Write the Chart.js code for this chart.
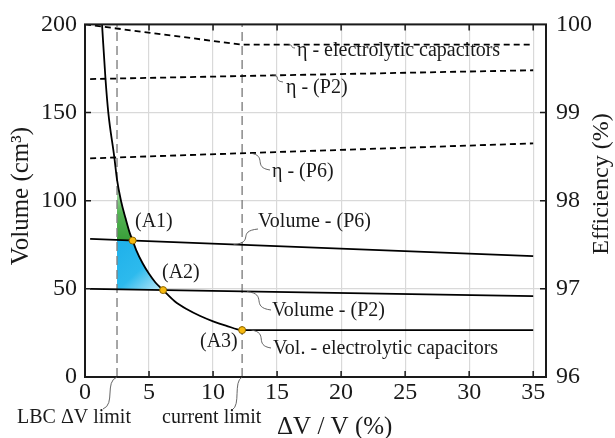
<!DOCTYPE html>
<html>
<head>
<meta charset="utf-8">
<script src="https://cdn.jsdelivr.net/npm/chart.js@4.4.0/dist/chart.umd.min.js"></script>
<style>
  html, body { margin: 0; padding: 0; background: #fff; }
  #wrap { width: 615px; height: 438px; position: relative; }
</style>
</head>
<body>
<div id="wrap"><canvas id="grafico"></canvas></div>
<script>
// curva de volume (cm3) em funcao de dV/V (%)
const curvaX = [1.33, 1.6, 1.82, 2.29, 2.5, 2.81, 3.18, 3.5, 3.72, 4, 4.5, 5, 5.5, 6.1, 7, 8, 9, 10, 11, 12.27, 35];
const curvaY = [200, 169, 150, 124.6, 112, 100, 89.7, 81.6, 77.4, 72, 64.5, 58.5, 53.6, 49.3, 43, 38.3, 34.6, 31.6, 29.2, 26.6, 26.6];

// retas de volume
const volP6X = [0.4, 35];
const volP6Y = [78.3, 68.6];
const volP2X = [0.4, 35];
const volP2Y = [50, 45.9];

// eficiencia (%)
const etaElX = [0, 12.27, 35];
const etaElY = [100, 99.77, 99.77];
const etaP2X = [0.4, 35];
const etaP2Y = [99.38, 99.48];
const etaP6X = [0.4, 35];
const etaP6Y = [98.48, 98.65];

// pontos (A1) (A2) (A3)
const pontosX = [3.72, 6.1, 12.27];
const pontosY = [77.4, 49.3, 26.6];

// limites
const limiteLBC = 2.5;
const limiteCorrente = 12.27;
const topoAzulInicio = 78.0;

const ticksX = [0, 5, 10, 15, 20, 25, 30, 35];
const ticksY = [0, 50, 100, 150, 200];
const ticksEta = [96, 97, 98, 99, 100];

const xy = (xs, ys) => xs.map((x, i) => ({x: x, y: ys[i]}));

// areas coloridas
const verdeTopo = xy(curvaX, curvaY).filter(p => p.x >= limiteLBC && p.x <= pontosX[0]);
const azulTopo = [{x: limiteLBC, y: topoAzulInicio}].concat(
  xy(curvaX, curvaY).filter(p => p.x >= pontosX[0] && p.x <= pontosX[1]));

const fonte = '"Liberation Serif", "Times New Roman", serif';

function gradVerde(c) {
  const ch = c.chart;
  if (!ch.chartArea) return '#3fa53f';
  const sy = ch.scales.y;
  const g = ch.ctx.createLinearGradient(0, sy.getPixelForValue(topoAzulInicio), 0, sy.getPixelForValue(112));
  g.addColorStop(0, '#3a9f3a');
  g.addColorStop(0.45, '#55b455');
  g.addColorStop(0.8, '#a9dca9');
  g.addColorStop(1, '#eaf6ea');
  return g;
}
function gradAzul(c) {
  const ch = c.chart;
  if (!ch.chartArea) return '#26b0e8';
  const sx = ch.scales.x, sy = ch.scales.y;
  const g = ch.ctx.createLinearGradient(sx.getPixelForValue(limiteLBC), sy.getPixelForValue(topoAzulInicio),
    sx.getPixelForValue(pontosX[1]), sy.getPixelForValue(pontosY[1]));
  g.addColorStop(0, '#1eb0ea');
  g.addColorStop(0.55, '#2dbaed');
  g.addColorStop(1, '#c2eaf9');
  return g;
}

const linha = { pointRadius: 0, borderColor: '#000', borderWidth: 1.8, fill: false, tension: 0 };

const datasets = [
  // 0 volume P6
  Object.assign({}, linha, { data: xy(volP6X, volP6Y), yAxisID: 'y', order: 2 }),
  // 1 volume P2
  Object.assign({}, linha, { data: xy(volP2X, volP2Y), yAxisID: 'y', order: 2 }),
  // 2 area verde
  { data: verdeTopo, yAxisID: 'y', pointRadius: 0, borderWidth: 0, tension: 0,
    fill: { target: 0 }, backgroundColor: gradVerde, order: 5 },
  // 3 area azul
  { data: azulTopo, yAxisID: 'y', pointRadius: 0, borderWidth: 0, tension: 0,
    fill: { target: 1 }, backgroundColor: gradAzul, order: 5 },
  // 4 limites verticais
  { data: [{x: limiteLBC, y: 0}, {x: limiteLBC, y: 200}], yAxisID: 'y', pointRadius: 0,
    borderColor: '#808080', borderWidth: 1.4, borderDash: [9, 5], fill: false, order: 4 },
  { data: [{x: limiteCorrente, y: 0}, {x: limiteCorrente, y: 200}], yAxisID: 'y', pointRadius: 0,
    borderColor: '#808080', borderWidth: 1.4, borderDash: [9, 5], fill: false, order: 4 },
  // curva de volume
  Object.assign({}, linha, { data: xy(curvaX, curvaY), yAxisID: 'y', cubicInterpolationMode: 'monotone', order: 2 }),
  // eficiencias
  Object.assign({}, linha, { data: xy(etaElX, etaElY), yAxisID: 'y2', borderDash: [6, 4], order: 3 }),
  Object.assign({}, linha, { data: xy(etaP2X, etaP2Y), yAxisID: 'y2', borderDash: [6, 4], order: 3 }),
  Object.assign({}, linha, { data: xy(etaP6X, etaP6Y), yAxisID: 'y2', borderDash: [6, 4], order: 3 }),
  // pontos
  { data: xy(pontosX, pontosY), yAxisID: 'y', showLine: false, pointRadius: 3.5,
    pointBackgroundColor: '#f7b90f', pointBorderColor: '#8a6400', pointBorderWidth: 1, order: 1 }
];

// textos com linhas-guia
const notas = [
  { t: 'η - electrolytic capacitors', x: 297, y: 51, g: { eixo: 'y2', vx: 15.9, vy: 99.77, fx: 295, fy: 48 } },
  { t: 'η - (P2)', x: 286, y: 88, g: { eixo: 'y2', vx: 14.6, vy: 99.43, fx: 283, fy: 82 } },
  { t: 'η - (P6)', x: 272, y: 172, g: { eixo: 'y2', vx: 12.9, vy: 98.54, fx: 270, fy: 170 } },
  { t: 'Volume - (P6)', x: 258, y: 222, g: { eixo: 'y', vx: 11.6, vy: 75.1, fx: 258, fy: 229 } },
  { t: 'Volume - (P2)', x: 272, y: 311, g: { eixo: 'y', vx: 12.65, vy: 48.5, fx: 271, fy: 310 } },
  { t: 'Vol. - electrolytic capacitors', x: 273, y: 349, g: { eixo: 'y', vx: 13.0, vy: 26.6, fx: 271, fy: 348 } },
  { t: '(A1)', x: 135, y: 222 },
  { t: '(A2)', x: 162, y: 273 },
  { t: '(A3)', x: 200, y: 342 },
  { t: 'LBC ΔV limit', x: 17, y: 418, g: { eixo: 'y', vx: limiteLBC, vy: 0, fx: 103, fy: 409 } },
  { t: 'current limit', x: 162, y: 418, g: { eixo: 'y', vx: limiteCorrente, vy: 0, fx: 232, fy: 410 } }
];

function guia(ctx, x0, y0, x1, y1) {
  const dx = x1 - x0, dy = y1 - y0;
  ctx.beginPath();
  ctx.moveTo(x0, y0);
  ctx.bezierCurveTo(x0 + dx * 0.9, y0 + dy * 0.15, x0 + dx * 0.1, y0 + dy * 0.85, x1, y1);
  ctx.stroke();
}

const extras = {
  id: 'extras',
  afterDraw(chart) {
    const ctx = chart.ctx;
    const a = chart.chartArea;
    const sx = chart.scales.x, sy = chart.scales.y, s2 = chart.scales.y2;
    ctx.save();
    // moldura
    ctx.strokeStyle = '#1a1a1a';
    ctx.lineWidth = 2;
    ctx.strokeRect(a.left, a.top, a.right - a.left, a.bottom - a.top);
    // ticks para dentro
    ctx.lineWidth = 1.5;
    ctx.beginPath();
    ticksX.slice(1).forEach(v => {
      const px = sx.getPixelForValue(v);
      ctx.moveTo(px, a.bottom); ctx.lineTo(px, a.bottom - 6);
      ctx.moveTo(px, a.top); ctx.lineTo(px, a.top + 6);
    });
    ticksY.slice(1, -1).forEach(v => {
      const py = sy.getPixelForValue(v);
      ctx.moveTo(a.left, py); ctx.lineTo(a.left + 6, py);
    });
    ticksEta.slice(1, -1).forEach(v => {
      const py = s2.getPixelForValue(v);
      ctx.moveTo(a.right, py); ctx.lineTo(a.right - 6, py);
    });
    ctx.stroke();

    // notas
    ctx.strokeStyle = '#555';
    ctx.lineWidth = 0.9;
    ctx.fillStyle = '#1a1a1a';
    ctx.font = '20px ' + fonte;
    ctx.textBaseline = 'middle';
    ctx.textAlign = 'left';
    notas.forEach(n => {
      if (n.g) {
        const esc = chart.scales[n.g.eixo];
        guia(ctx, sx.getPixelForValue(n.g.vx), esc.getPixelForValue(n.g.vy), n.g.fx, n.g.fy);
      }
      ctx.fillText(n.t, n.x, n.y);
    });

    // titulos dos eixos
    ctx.font = '25px ' + fonte;
    ctx.textAlign = 'left';
    ctx.fillText('ΔV / V (%)', 277, 427);
    ctx.textAlign = 'center';
    ctx.save();
    ctx.translate(21, 196);
    ctx.rotate(-Math.PI / 2);
    ctx.fillText('Volume (cm³)', 0, 0);
    ctx.restore();
    ctx.save();
    ctx.font = '24px ' + fonte;
    ctx.translate(602, 184);
    ctx.rotate(-Math.PI / 2);
    ctx.fillText('Efficiency (%)', 0, 0);
    ctx.restore();
    ctx.restore();
  }
};

const ctx = document.getElementById('grafico').getContext('2d');
new Chart(ctx, {
  type: 'line',
  data: { datasets: datasets },
  options: {
    responsive: true,
    maintainAspectRatio: false,
    animation: false,
    layout: { padding: { top: 16, left: 0, right: 0, bottom: 0 } },
    plugins: { legend: { display: false }, tooltip: { enabled: false } },
    scales: {
      x: {
        type: 'linear', min: 0, max: 36, position: 'bottom',
        afterFit: s => { s.height = 61; },
        afterBuildTicks: s => { s.ticks = ticksX.map(v => ({value: v})); },
        grid: { color: '#d9d9d9', lineWidth: 1.2, drawTicks: false },
        border: { display: false },
        ticks: { color: '#1a1a1a', font: { family: fonte, size: 24 }, padding: 1, maxRotation: 0 }
      },
      y: {
        type: 'linear', min: 0, max: 200, position: 'left',
        afterFit: s => { s.width = 85; },
        afterBuildTicks: s => { s.ticks = ticksY.map(v => ({value: v})); },
        grid: { color: '#d9d9d9', lineWidth: 1.2, drawTicks: false },
        border: { display: false },
        ticks: { color: '#1a1a1a', font: { family: fonte, size: 24 }, padding: 8 }
      },
      y2: {
        type: 'linear', min: 96, max: 100, position: 'right',
        afterFit: s => { s.width = 69; },
        afterBuildTicks: s => { s.ticks = ticksEta.map(v => ({value: v})); },
        grid: { display: false, drawTicks: false },
        border: { display: false },
        ticks: { color: '#1a1a1a', font: { family: fonte, size: 24 }, padding: 10 }
      }
    }
  },
  plugins: [extras]
});
</script>
</body>
</html>
